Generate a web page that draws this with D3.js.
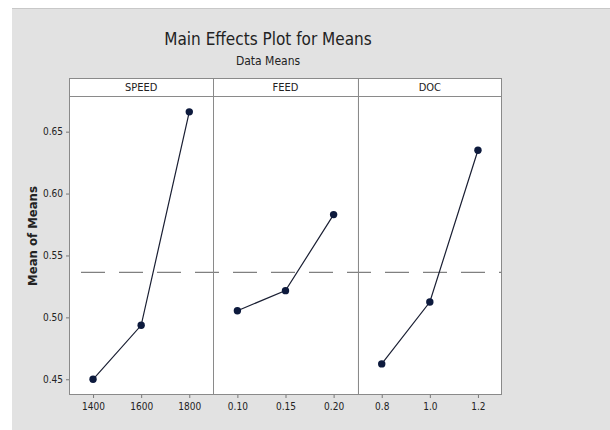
<!DOCTYPE html>
<html>
<head>
<meta charset="utf-8">
<script src="https://cdn.jsdelivr.net/npm/d3@7"></script>
<style>
  body { margin: 0; background: #fff; }
  text { font-family: "Liberation Sans Narrow", "DejaVu Sans Condensed", "Noto Sans", sans-serif; fill: #222; }
</style>
</head>
<body>
<svg id="chart" width="610" height="430"></svg>
<script>
// factors and their levels
var factors = ["SPEED", "FEED", "DOC"]
var speedLevels = ["1400", "1600", "1800"]
var feedLevels = ["0.10", "0.15", "0.20"]
var docLevels = ["0.8", "1.0", "1.2"]
// mean of means at each level
var speedMeans = [0.450, 0.4936, 0.666]
var feedMeans = [0.5054, 0.5216, 0.583]
var docMeans = [0.4624, 0.5124, 0.635]
var grandMean = 0.5364
var yTicks = [0.45, 0.50, 0.55, 0.60, 0.65]

var levels = [speedLevels, feedLevels, docLevels]
var means = [speedMeans, feedMeans, docMeans]

var svg = d3.select("#chart")

var plotLeft = 69, plotRight = 502, stripTop = 78, plotTop = 96, plotBottom = 395
var panelW = (plotRight - plotLeft) / 3

// gray page background
svg.append("rect")
  .attr("x", 12).attr("y", 8)
  .attr("width", 610 - 12).attr("height", 430 - 8)
  .attr("fill", "#e2e2e2")
svg.append("line")
  .attr("x1", 12).attr("x2", 610).attr("y1", 8.5).attr("y2", 8.5)
  .attr("stroke", "#c8c8c8")

svg.append("text")
  .attr("x", 268).attr("y", 45)
  .attr("text-anchor", "middle")
  .attr("font-size", "17px")
  .text("Main Effects Plot for Means")
svg.append("text")
  .attr("x", 268).attr("y", 65)
  .attr("text-anchor", "middle")
  .attr("font-size", "12px")
  .text("Data Means")

var y = d3.scaleLinear().domain([0.4373, 0.6788]).range([plotBottom, plotTop])

svg.append("text")
  .attr("transform", "translate(37,236) rotate(-90)")
  .attr("text-anchor", "middle")
  .attr("font-size", "13px")
  .attr("font-weight", "bold")
  .text("Mean of Means")

factors.forEach(function(f, i) {
  var x0 = plotLeft + i * panelW
  var g = svg.append("g")

  g.append("rect")
    .attr("x", x0).attr("y", stripTop)
    .attr("width", panelW).attr("height", plotBottom - stripTop)
    .attr("fill", "#fff")

  g.append("text")
    .attr("x", x0 + panelW / 2).attr("y", plotTop - 5)
    .attr("text-anchor", "middle")
    .attr("font-size", "11px")
    .text(f)

  var x = d3.scalePoint().domain(levels[i]).range([x0, x0 + panelW]).padding(0.5)

  var xAxis = g.append("g")
    .attr("transform", "translate(0," + plotBottom + ")")
    .call(d3.axisBottom(x).tickSize(3).tickPadding(5))
  xAxis.select(".domain").remove()
  xAxis.selectAll("line").attr("stroke", "#777")
  xAxis.selectAll("text").attr("font-size", "10px").attr("fill", "#333")
})

// grand mean reference line
svg.append("line")
  .attr("x1", plotLeft).attr("x2", plotRight)
  .attr("y1", y(grandMean)).attr("y2", y(grandMean))
  .attr("stroke", "#808080")
  .attr("stroke-width", 1.2)
  .attr("stroke-dasharray", "24,14")
  .attr("stroke-dashoffset", 26)

// y axis
var yAxis = svg.append("g")
  .attr("transform", "translate(" + plotLeft + ",0)")
  .call(d3.axisLeft(y).tickValues(yTicks).tickFormat(d3.format(".2f")).tickSize(3).tickPadding(3))
yAxis.select(".domain").remove()
yAxis.selectAll("line").attr("stroke", "#777")
yAxis.selectAll("text").attr("font-size", "10px").attr("fill", "#333")

// frames
var frame = svg.append("g").attr("fill", "none").attr("stroke", "#8a8a8a")
frame.append("rect")
  .attr("x", plotLeft + 0.5).attr("y", stripTop + 0.5)
  .attr("width", plotRight - plotLeft - 1).attr("height", plotBottom - stripTop - 1)
frame.append("line")
  .attr("x1", plotLeft).attr("x2", plotRight).attr("y1", plotTop + 0.5).attr("y2", plotTop + 0.5)
factors.slice(1).forEach(function(f, i) {
  var xs = Math.round(plotLeft + (i + 1) * panelW) + 0.5
  frame.append("line")
    .attr("x1", xs).attr("x2", xs).attr("y1", stripTop).attr("y2", plotBottom)
})

// main effect lines and points
factors.forEach(function(f, i) {
  var x0 = plotLeft + i * panelW
  var x = d3.scalePoint().domain(levels[i]).range([x0, x0 + panelW]).padding(0.5)
  var pts = levels[i].map(function(l, j) { return [x(l), y(means[i][j])] })
  var g = svg.append("g")

  g.append("path")
    .attr("d", d3.line()(pts))
    .attr("fill", "none")
    .attr("stroke", "#1a1f33")
    .attr("stroke-width", 1.2)

  g.selectAll("circle")
    .data(pts)
    .enter()
    .append("circle")
    .attr("cx", function(d) { return d[0] })
    .attr("cy", function(d) { return d[1] })
    .attr("r", 3.7)
    .attr("fill", "#0d1a3d")
})
</script>
</body>
</html>
